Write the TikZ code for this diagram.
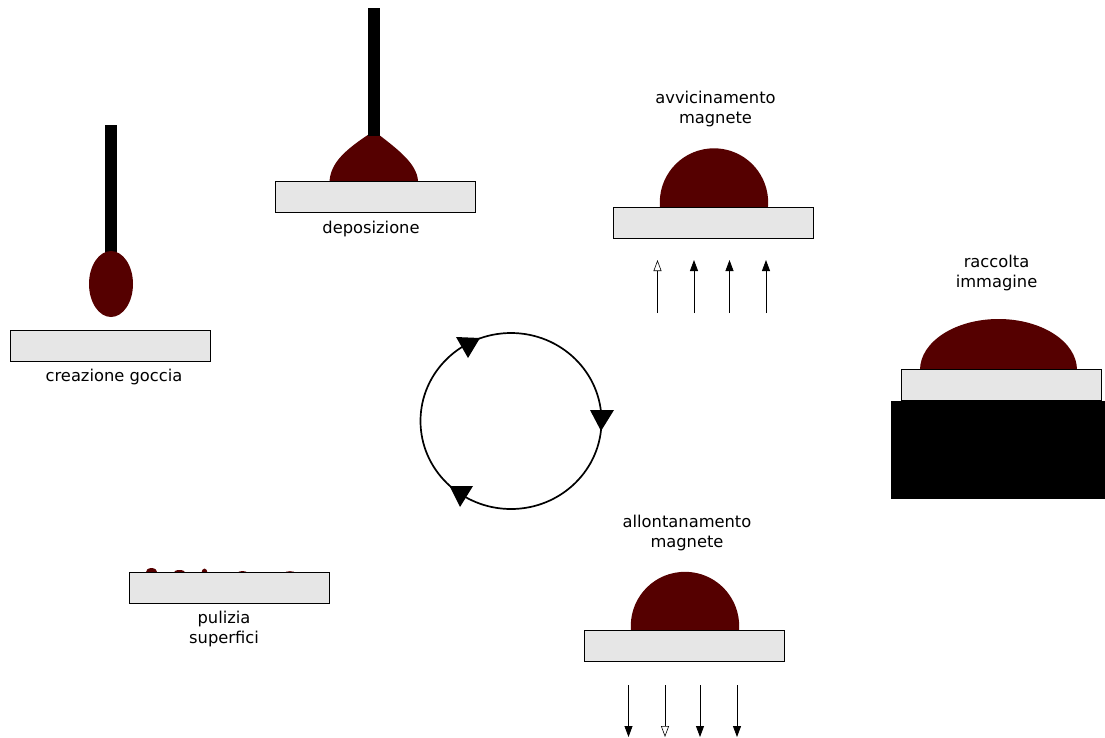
\documentclass[tikz,border=0pt]{standalone}
\usepackage{fontspec}
\setmainfont{DejaVu Sans}
\usetikzlibrary{arrows.meta}
\definecolor{dropred}{HTML}{550000}
\definecolor{glass}{HTML}{E6E6E6}
\tikzset{
  x=1pt,y=-1pt,
  slide/.style={draw=black,line width=0.7pt,fill=glass,minimum width=200pt,minimum height=31pt,inner sep=0pt,outer sep=0pt},
  caption/.style={font=\fontsize{16.3}{20.5}\selectfont,align=center,inner sep=0pt,text=black},
  drop/.style={fill=dropred,draw=none},
  needle/.style={fill=black,draw=none},
  field/.style={draw=black,line width=0.8pt,-{Triangle[width=8pt,length=11pt]}},
  fieldopen/.style={draw=black,line width=0.8pt,-{Triangle[open,width=8pt,length=11pt,line width=0.6pt]}},
  cyclehead/.style={fill=black,draw=none},
}
\begin{document}
\begin{tikzpicture}
\useasboundingbox (0,0) rectangle (1105,737);

% droplet being formed
\fill[needle] (105,125) rectangle (117,256);
\fill[drop] (111,284) ellipse [x radius=22, y radius=33];
\node[slide] (s1) at (110.8,345.5) {};
\node[caption] (t1) at (114,377) {creazione goccia};

% deposition on the slide
\fill[drop] (329.5,181) .. controls (331,163) and (344,150) .. (374,131) .. controls (396,148) and (417,163) .. (418,181) -- cycle;
\fill[needle] (368,8) rectangle (380,136);
\node[slide] (s2) at (375.5,196.5) {};
\node[caption] (t2) at (371,229) {deposizione};

% magnets approaching
\node[caption] (t3) at (715.5,109) {avvicinamento\\magnete};
\fill[drop] (660,207.5) arc [start angle=174.7,end angle=365.3,radius=54.2] -- cycle;
\node[slide] (s3) at (713.8,222.5) {};
\coordinate (u1a) at (657.5,313); \coordinate (u1b) at (657.5,260);
\coordinate (u2a) at (694,313); \coordinate (u2b) at (694,260);
\coordinate (u3a) at (729.5,313); \coordinate (u3b) at (729.5,260);
\coordinate (u4a) at (766,313); \coordinate (u4b) at (766,260);
\draw[fieldopen] (u1a) -- (u1b);
\draw[field] (u2a) -- (u2b);
\draw[field] (u3a) -- (u3b);
\draw[field] (u4a) -- (u4b);

% image acquisition on the magnet block
\node[caption] (t4) at (996.5,273) {raccolta\\immagine};
\fill[drop] (920,370) arc [start angle=180,end angle=360,x radius=78.5,y radius=51] -- cycle;
\fill[black] (891,401) rectangle (1105,499);
\node[slide] (s4) at (1001,385) {};

% cycle
\draw[black,line width=1.7pt] (511,421) ellipse [x radius=90.5, y radius=88];
\fill[cyclehead] (456,337) -- (480,338) -- (468,358) -- cycle;
\fill[cyclehead] (590,410) -- (614,410) -- (601,431) -- cycle;
\fill[cyclehead] (449.5,486) -- (473,486) -- (460,507) -- cycle;

% magnets withdrawn
\node[caption] (t5) at (687,533) {allontanamento\\magnete};
\fill[drop] (631,631) arc [start angle=174.7,end angle=365.3,radius=54.2] -- cycle;
\node[slide] (s5) at (684.8,646.3) {};
\coordinate (d1a) at (628.5,685); \coordinate (d1b) at (628.5,737);
\coordinate (d2a) at (665,685); \coordinate (d2b) at (665,737);
\coordinate (d3a) at (700,685); \coordinate (d3b) at (700,737);
\coordinate (d4a) at (737,685); \coordinate (d4b) at (737,737);
\draw[field] (d1a) -- (d1b);
\draw[fieldopen] (d2a) -- (d2b);
\draw[field] (d3a) -- (d3b);
\draw[field] (d4a) -- (d4b);

% surface cleaning, with residues left
\fill[drop] (145.5,573) arc [start angle=180,end angle=360,x radius=6,y radius=5] -- cycle;
\fill[drop] (173.5,573) arc [start angle=180,end angle=360,x radius=6,y radius=3] -- cycle;
\fill[drop] (201.5,573) arc [start angle=180,end angle=360,x radius=3,y radius=4.5] -- cycle;
\fill[drop] (237.5,573) arc [start angle=180,end angle=360,x radius=5,y radius=2] -- cycle;
\fill[drop] (284.5,573) arc [start angle=180,end angle=360,x radius=5.5,y radius=1.8] -- cycle;
\node[slide] (s6) at (229.8,587.5) {};
\node[caption] (t6) at (224,629) {pulizia\\superfici};
\end{tikzpicture}
\end{document}
